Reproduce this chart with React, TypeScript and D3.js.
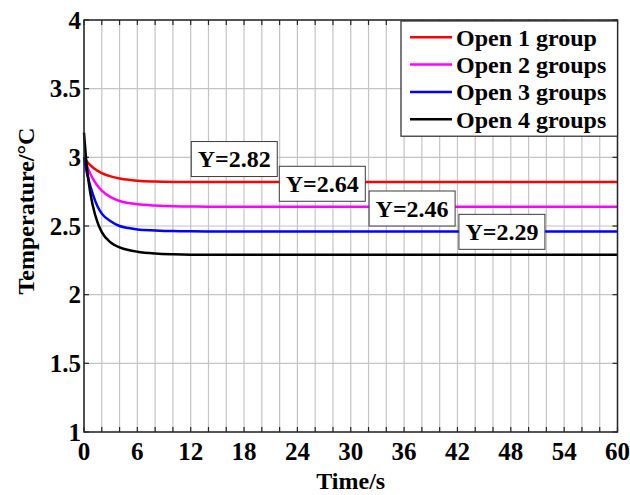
import * as d3 from "d3"

// time samples (s)
const times = [0, 0.25, 0.5, 1, 1.5, 2, 3, 4, 5, 6, 8, 10, 12, 15, 60]

const open1 = [3.0, 2.976, 2.956, 2.926, 2.903, 2.885, 2.861, 2.846, 2.836, 2.83, 2.824, 2.821, 2.82, 2.82, 2.82]
const open2 = [3.0, 2.95, 2.91, 2.845, 2.795, 2.758, 2.71, 2.682, 2.667, 2.658, 2.649, 2.644, 2.642, 2.64, 2.64]
const open3 = [3.0, 2.91, 2.84, 2.73, 2.645, 2.59, 2.535, 2.5, 2.485, 2.475, 2.468, 2.463, 2.461, 2.46, 2.46]
const open4 = [3.18, 2.98, 2.83, 2.645, 2.53, 2.455, 2.38, 2.345, 2.325, 2.313, 2.3, 2.294, 2.291, 2.29, 2.29]

const seriesNames = ["Open 1 group", "Open 2 groups", "Open 3 groups", "Open 4 groups"]
const seriesColors = ["#ff0000", "#ff00ff", "#0000ff", "#000000"]
const seriesValues = [open1, open2, open3, open4]

// steady-state labels
const labelTexts = ["Y=2.82", "Y=2.64", "Y=2.46", "Y=2.29"]
const labelValues = [2.82, 2.64, 2.46, 2.29]
const labelTimes = [16.9, 26.8, 36.9, 47.0]

const xTickLabels = [0, 6, 12, 18, 24, 30, 36, 42, 48, 54, 60]
const xGrid = d3.range(0, 61, 2)
const yTicks = [1, 1.5, 2, 2.5, 3, 3.5, 4]

const W = 630
const H = 495
const margin = { left: 84, right: 12.5, top: 20, bottom: 63 }
const font = "'Liberation Serif', 'Times New Roman', serif"

export default function App() {
  const x = d3.scaleLinear().domain([0, 60]).range([margin.left, W - margin.right])
  const y = d3.scaleLinear().domain([1, 4]).range([H - margin.bottom, margin.top])
  const [x0, x1] = x.range()
  const [y0, y1] = y.range()

  const line = d3
    .line<number>()
    .x((_, i) => x(times[i]))
    .y((d) => y(d))
    .curve(d3.curveMonotoneX)

  const boxW = 86
  const boxH = 35
  const legX = 401
  const legY = 21
  const rowH = 27.3

  return (
    <svg width={W} height={H} style={{ position: "absolute", left: 0, top: 0, display: "block", background: "#fff" }}>
      <rect x={0} y={0} width={W} height={H} fill="#fff" />
      {/* grid */}
      {xGrid.map((t) => (
        <line key={"gx" + t} x1={x(t)} x2={x(t)} y1={y0} y2={y1} stroke="#c4c4c4" strokeWidth={1.2} />
      ))}
      {yTicks.map((v) => (
        <line key={"gy" + v} x1={x0} x2={x1} y1={y(v)} y2={y(v)} stroke="#c4c4c4" strokeWidth={1.2} />
      ))}
      {/* tick marks */}
      {xGrid.map((t) => (
        <g key={"tx" + t}>
          <line x1={x(t)} x2={x(t)} y1={y0} y2={y0 - 5} stroke="#262626" strokeWidth={1.2} />
          <line x1={x(t)} x2={x(t)} y1={y1} y2={y1 + 5} stroke="#262626" strokeWidth={1.2} />
        </g>
      ))}
      {yTicks.map((v) => (
        <g key={"ty" + v}>
          <line x1={x0} x2={x0 + 5} y1={y(v)} y2={y(v)} stroke="#262626" strokeWidth={1.2} />
          <line x1={x1} x2={x1 - 5} y1={y(v)} y2={y(v)} stroke="#262626" strokeWidth={1.2} />
        </g>
      ))}
      {/* curves */}
      {seriesValues.map((vals, i) => (
        <path key={"s" + i} d={line(vals) || ""} fill="none" stroke={seriesColors[i]} strokeWidth={2.5} />
      ))}
      {/* value labels */}
      {labelTexts.map((txt, i) => {
        const cx = x(labelTimes[i])
        const cy = y(labelValues[i]) - 23
        return (
          <g key={"lb" + i}>
            <rect x={cx - boxW / 2} y={cy - boxH / 2} width={boxW} height={boxH} fill="#fff" stroke="#3a3a3a" strokeWidth={1} />
            <text x={cx} y={cy} dy="0.35em" textAnchor="middle" fontFamily={font} fontWeight="bold" fontSize={24} fill="#000">
              {txt}
            </text>
          </g>
        )
      })}
      {/* axes box */}
      <rect x={x0} y={y1} width={x1 - x0} height={y0 - y1} fill="none" stroke="#262626" strokeWidth={1.5} />
      {/* tick labels */}
      {xTickLabels.map((t) => (
        <text key={"xl" + t} x={x(t)} y={460} textAnchor="middle" fontFamily={font} fontWeight="bold" fontSize={25} fill="#000">
          {t}
        </text>
      ))}
      {yTicks.map((v) => (
        <text key={"yl" + v} x={81} y={y(v)} dy="0.35em" textAnchor="end" fontFamily={font} fontWeight="bold" fontSize={25} fill="#000">
          {v}
        </text>
      ))}
      {/* axis titles */}
      <text x={(x0 + x1) / 2} y={489} textAnchor="middle" fontFamily={font} fontWeight="bold" fontSize={24} fill="#000">
        Time/s
      </text>
      <text transform={`translate(34,211) rotate(-90)`} textAnchor="middle" fontFamily={font} fontWeight="bold" fontSize={24} fill="#000">
        Temperature/°C
      </text>
      {/* legend */}
      <rect x={legX} y={legY} width={x1 - legX} height={rowH * 4 + 6} fill="#fff" stroke="#262626" strokeWidth={1.2} />
      {seriesNames.map((name, i) => {
        const ry = legY + 16.3 + i * rowH
        return (
          <g key={"lg" + i}>
            <line x1={410} x2={452} y1={ry} y2={ry} stroke={seriesColors[i]} strokeWidth={2.5} />
            <text x={456} y={ry} dy="0.35em" fontFamily={font} fontWeight="bold" fontSize={24} fill="#000">
              {name}
            </text>
          </g>
        )
      })}
    </svg>
  )
}
